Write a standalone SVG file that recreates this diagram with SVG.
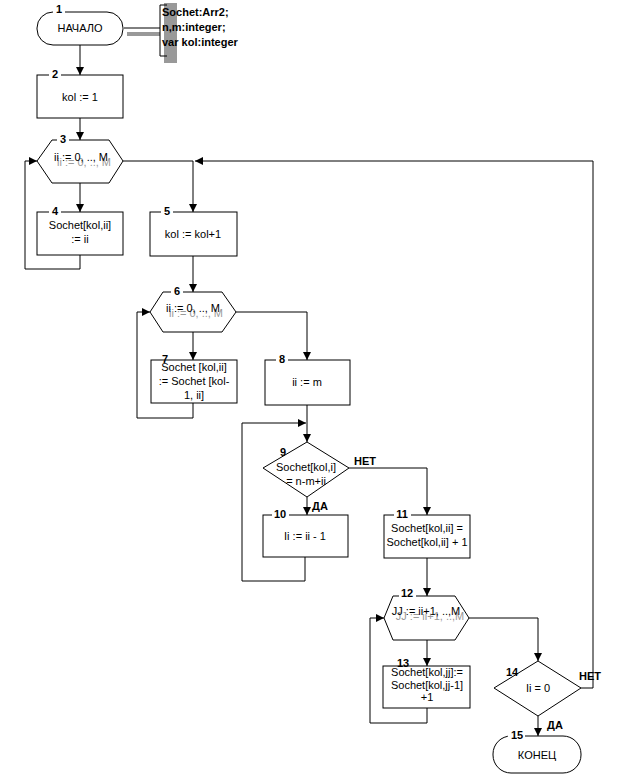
<svg xmlns="http://www.w3.org/2000/svg" width="617" height="776" viewBox="0 0 617 776">
<style>
.s{fill:#fff;stroke:#000;stroke-width:1}
.e{fill:none;stroke:#000;stroke-width:1}
.t{font-family:"Liberation Sans",Arial,sans-serif;font-size:11px;fill:#000;text-anchor:middle}
.n{font-family:"Liberation Sans",Arial,sans-serif;font-size:11px;font-weight:bold;fill:#000;text-anchor:middle}
.g{font-family:"Liberation Sans",Arial,sans-serif;font-size:11px;fill:#999;text-anchor:middle}
.d{font-family:"Liberation Sans",Arial,sans-serif;font-size:11px;font-weight:bold;fill:#000}
.w{fill:#fff;stroke:none}
</style>
<defs>
<marker id="a" markerUnits="userSpaceOnUse" markerWidth="8" markerHeight="8" refX="8" refY="4" orient="auto">
<path d="M0,0 L8,4 L0,8 z" fill="#000"/>
</marker>
</defs>
<rect width="617" height="776" fill="#fff"/>
<g id="connectors" class="e" marker-end="url(#a)">
<path d="M80,45 V75"/>
<path d="M80,118 V140"/>
<path d="M80,183 V212"/>
<path d="M80,255 V269 H25 V161 H37"/>
<path d="M123,161 H193 V212"/>
<path d="M581,688 H593 V161 H195"/>
<path d="M193,256 V292"/>
<path d="M193,332 V360"/>
<path d="M193,403 V418 H137 V312 H150"/>
<path d="M236,312 H307 V360"/>
<path d="M307,405 V442"/>
<path d="M305,557 V581 H242 V423 H306"/>
<path d="M307,497 V515"/>
<path d="M349,468 H427 V515"/>
<path d="M427,558 V596"/>
<path d="M427,640 V666"/>
<path d="M427,708 V723 H370 V618 H384"/>
<path d="M469,618 H538 V661"/>
<path d="M538,716 V736"/>
</g>
<g id="decl">
<path d="M124,28 H160" class="e"/>
<rect x="127" y="32" width="33" height="4" fill="#999"/>
<rect x="164" y="3" width="13" height="60" fill="#999"/>
<path d="M167,5 H160 V56 H167" class="e"/>
<text class="d" x="162" y="16">Sochet:Arr2;</text>
<text class="d" x="162" y="31">n,m:integer;</text>
<text class="d" x="162" y="46">var kol:integer</text>
</g>
<g id="node1">
<rect x="37" y="12" width="86" height="33" rx="16" ry="16" class="s"/>
<rect x="53" y="8" width="12" height="8" class="w"/>
<text class="n" x="59" y="13">1</text>
<text class="t" x="80" y="32">НАЧАЛО</text>
</g>
<g id="node2">
<rect x="37" y="75" width="86" height="43" class="s"/>
<rect x="49" y="70" width="12" height="8" class="w"/>
<text class="n" x="55" y="78">2</text>
<text class="t" x="80" y="101">kol := 1</text>
</g>
<g id="node3">
<polygon points="37,161 52,140 109,140 123,161 109,183 52,183" class="s"/>
<rect x="57" y="135" width="12" height="8" class="w"/>
<text class="n" x="63" y="143">3</text>
<text class="g" x="84" y="166">ii := 0, .., M</text>
<text class="t" x="81" y="161">ii := 0, .., M</text>
</g>
<g id="node4">
<rect x="37" y="212" width="86" height="43" class="s"/>
<rect x="49" y="207" width="12" height="8" class="w"/>
<text class="n" x="55" y="215">4</text>
<text class="t" x="80" y="229">Sochet[kol,ii]</text>
<text class="t" x="80" y="243">:= ii</text>
</g>
<g id="node5">
<rect x="150" y="212" width="87" height="44" class="s"/>
<rect x="161" y="207" width="12" height="8" class="w"/>
<text class="n" x="167" y="215">5</text>
<text class="t" x="193" y="238">kol := kol+1</text>
</g>
<g id="node6">
<polygon points="150,312 163,292 222,292 236,312 222,332 163,332" class="s"/>
<rect x="171" y="287" width="12" height="8" class="w"/>
<text class="n" x="177" y="295">6</text>
<text class="g" x="196" y="317">ii := 0, .., M</text>
<text class="t" x="193" y="312">ii := 0, .., M</text>
</g>
<g id="node7">
<rect x="151" y="360" width="86" height="43" class="s"/>
<text class="n" x="165" y="363">7</text>
<text class="t" x="194" y="371">Sochet [kol,ii]</text>
<text class="t" x="194" y="385">:= Sochet  [kol-</text>
<text class="t" x="194" y="399">1, ii]</text>
</g>
<g id="node8">
<rect x="265" y="360" width="85" height="45" class="s"/>
<rect x="276" y="355" width="12" height="8" class="w"/>
<text class="n" x="282" y="363">8</text>
<text class="t" x="307" y="386">ii := m</text>
</g>
<g id="node9">
<polygon points="307,442 349,468 307,497 263,468" class="s"/>
<text class="n" x="283" y="456">9</text>
<text class="t" x="306" y="471">Sochet[kol,i]</text>
<text class="t" x="306" y="485">= n-m+ii</text>
<text class="n" x="365" y="465">НЕТ</text>
<text class="n" x="320" y="510">ДА</text>
</g>
<g id="node10">
<rect x="263" y="515" width="85" height="42" class="s"/>
<rect x="272" y="510" width="17" height="8" class="w"/>
<text class="n" x="280" y="518">10</text>
<text class="t" x="305" y="540">Ii := ii - 1</text>
</g>
<g id="node11">
<rect x="384" y="515" width="86" height="43" class="s"/>
<rect x="394" y="510" width="17" height="8" class="w"/>
<text class="n" x="402" y="518">11</text>
<text class="t" x="427" y="532">Sochet[kol,ii] =</text>
<text class="t" x="427" y="546">Sochet[kol,ii] + 1</text>
</g>
<g id="node12">
<polygon points="384,618 393,596 455,596 469,618 455,640 393,640" class="s"/>
<rect x="399" y="591" width="17" height="8" class="w"/>
<text class="n" x="407" y="597">12</text>
<text class="g" x="430" y="620">JJ := ii+1, ..,M</text>
<text class="t" x="426" y="615">JJ := ii+1, ..,M</text>
</g>
<g id="node13">
<rect x="383" y="666" width="87" height="42" class="s"/>
<text class="n" x="403" y="667">13</text>
<text class="t" x="427" y="676">Sochet[kol,jj]:=</text>
<text class="t" x="427" y="689">Sochet[kol,jj-1]</text>
<text class="t" x="427" y="701">+1</text>
</g>
<g id="node14">
<polygon points="538,661 581,688 538,716 494,688" class="s"/>
<text class="n" x="512" y="676">14</text>
<text class="t" x="538" y="692">Ii  = 0</text>
<text class="n" x="590" y="680">НЕТ</text>
<text class="n" x="555" y="729">ДА</text>
</g>
<g id="node15">
<rect x="493" y="736" width="88" height="37" rx="18" ry="18" class="s"/>
<rect x="508" y="731" width="17" height="8" class="w"/>
<text class="n" x="517" y="739">15</text>
<text class="t" x="537" y="759">КОНЕЦ</text>
</g>
</svg>
